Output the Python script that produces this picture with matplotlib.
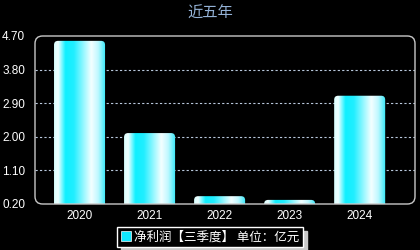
import numpy as np
import matplotlib
matplotlib.use("Agg")
import matplotlib.pyplot as plt
from matplotlib.patches import FancyBboxPatch, Patch
from matplotlib.colors import LinearSegmentedColormap

plt.rcParams['font.family'] = ['Noto Sans CJK SC', 'DejaVu Sans']

years = ['2020', '2021', '2022', '2023', '2024']
values = [4.57, 2.10, 0.41, 0.31, 3.10]
yticks = [0.20, 1.10, 2.00, 2.90, 3.80, 4.70]
title = '近五年'
legend_label = '净利润【三季度】 单位：亿元'

W, H = 420, 250
fig = plt.figure(figsize=(W/100, H/100), dpi=100, facecolor='black')
left, right, top, bottom = 35, 415, 36, 204
ax = fig.add_axes([left/W, 1-bottom/H, (right-left)/W, (bottom-top)/H])
ax.set_facecolor('black')

ymin, ymax = 0.20, 4.70
xmin, xmax = -0.636, 4.79
ax.set_xlim(xmin, xmax)
ax.set_ylim(ymin, ymax)

cmap = LinearSegmentedColormap.from_list('bar', [
    (0.0, '#d8ffff'), (0.08, '#f0ffff'), (0.22, '#10f0ff'), (0.38, '#20eeff'),
    (0.72, '#f4ffff'), (0.85, '#c0f8ff'), (1.0, '#30e8f8')])
grad = np.linspace(0, 1, 256).reshape(1, -1)

bw = 51/70
px_x = (right-left)/(xmax-xmin)
px_y = (bottom-top)/(ymax-ymin)
r_px = 4
rx = r_px/px_x
aspect = px_x/px_y
for i, v in enumerate(values):
    x0 = i - bw/2
    y0 = ymin - 0.3
    patch = FancyBboxPatch((x0, y0), bw, v - y0,
                           boxstyle=f"round,pad=0,rounding_size={rx}",
                           mutation_aspect=aspect, facecolor='none',
                           edgecolor='none', transform=ax.transData)
    ax.add_patch(patch)
    im = ax.imshow(grad, cmap=cmap, aspect='auto',
                   extent=[x0, x0+bw, y0, v], zorder=3, interpolation='bilinear')
    im.set_clip_path(patch)

ax.set_xlim(xmin, xmax)
ax.set_ylim(ymin, ymax)

for yt in yticks[1:-1]:
    ax.axhline(yt, color='#b8c8dc', linestyle=(0, (2, 2)), linewidth=0.8, zorder=1)

tick_font = ['Liberation Sans', 'DejaVu Sans']
ax.set_xticks(range(len(years)))
ax.set_xticklabels(years, color='white', fontsize=8.5, family=tick_font)
ax.set_yticks(yticks)
ax.set_yticklabels([f'{t:.2f}' for t in yticks], color='white', fontsize=8.5, family=tick_font)
ax.tick_params(length=0, pad=4)
ax.tick_params(axis='y', pad=7)
for s in ax.spines.values():
    s.set_visible(False)

frame = FancyBboxPatch((0, 0), 1, 1, boxstyle="round,pad=0,rounding_size=0.02",
                       mutation_aspect=(right-left)/(bottom-top),
                       transform=ax.transAxes, facecolor='none', edgecolor='#c8c8c8',
                       linewidth=1.0, clip_on=False, zorder=5)
ax.add_patch(frame)

fig.text(0.5, 1-13/H, title, color='#94b2d6', fontsize=11, ha='center', va='center')

handle = Patch(facecolor='#10e8ff', edgecolor='white', linewidth=0.5)
leg = fig.legend([handle], [legend_label], loc='center', bbox_to_anchor=(210/W, 1-237/H),
                 frameon=True, facecolor='black', edgecolor='white', fancybox=False,
                 shadow={'color': '#c8c8c8', 'alpha': 1.0, 'ox': 3, 'oy': -3},
                 fontsize=9, handlelength=0.8, handleheight=0.8, handletextpad=0.3,
                 borderpad=0.3, borderaxespad=0)
for t in leg.get_texts():
    t.set_color('white')
leg.get_frame().set_linewidth(1.0)

fig.savefig('out.png', dpi=100, facecolor='black')
